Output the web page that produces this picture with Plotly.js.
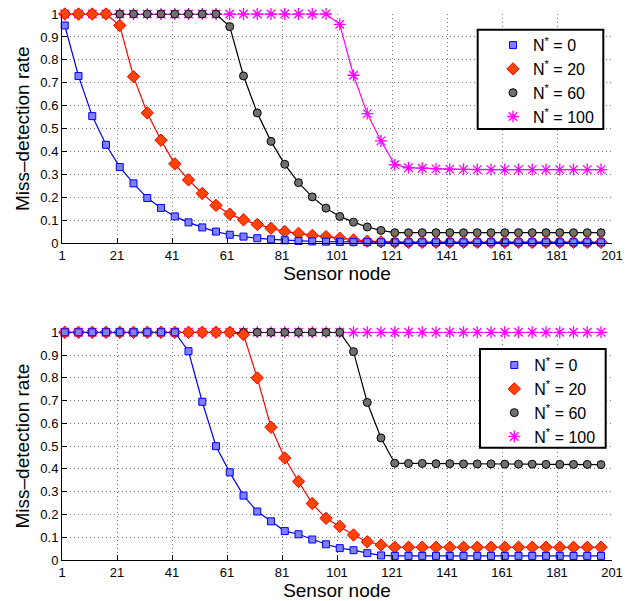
<!DOCTYPE html>
<html>
<head>
<meta charset="utf-8">
<script src="https://cdn.plot.ly/plotly-3.0.1.min.js"></script>
<style>html,body{margin:0;padding:0;background:#fff}#chart{width:629px;height:601px}</style>
</head>
<body>
<div id="chart"></div>
<script>
// Sensor node positions of the markers
const nodes = [2,7,12,17,22,27,32,37,42,47,52,57,62,67,72,77,82,87,92,97,
               102,107,112,117,122,127,132,137,142,147,152,157,162,167,172,177,182,187,192,197];
const xTicks = [1,21,41,61,81,101,121,141,161,181,201];
const seriesNames = ['N<sup>*</sup> = 0','N<sup>*</sup> = 20','N<sup>*</sup> = 60','N<sup>*</sup> = 100'];

// Top panel
const top0 = [0.95,0.73,0.555,0.43,0.333,0.262,0.198,0.155,0.118,0.092,0.07,0.052,0.038,0.03,0.023,0.018,0.014,0.011,0.009,0.008,
              0.007,0.006,0.006,0.005,0.005,0.005,0.005,0.005,0.005,0.005,0.005,0.005,0.005,0.005,0.005,0.005,0.005,0.005,0.005,0.005];
const top20 = [1,1,1,1,0.95,0.727,0.569,0.45,0.347,0.277,0.218,0.166,0.128,0.103,0.083,0.066,0.052,0.044,0.035,0.03,
               0.023,0.015,0.01,0.007,0.005,0.005,0.005,0.005,0.005,0.005,0.005,0.005,0.005,0.005,0.005,0.005,0.005,0.005,0.005,0.005];
const top60 = [1,1,1,1,1,1,1,1,1,1,1,1,0.945,0.73,0.569,0.445,0.345,0.265,0.203,0.154,
               0.118,0.093,0.072,0.057,0.047,0.047,0.047,0.047,0.047,0.047,0.047,0.047,0.047,0.047,0.047,0.047,0.047,0.047,0.047,0.047];
const top100 = [1,1,1,1,1,1,1,1,1,1,1,1,1,1,1,1,1,1,1,1,
                0.955,0.733,0.566,0.447,0.343,0.33,0.328,0.325,0.324,0.323,0.322,0.322,0.322,0.322,0.322,0.322,0.322,0.322,0.322,0.322];

// Bottom panel
const bot0 = [1,1,1,1,1,1,1,1,1,0.917,0.695,0.5,0.385,0.283,0.213,0.17,0.127,0.113,0.09,0.069,
              0.052,0.043,0.03,0.02,0.018,0.018,0.018,0.018,0.018,0.018,0.018,0.018,0.018,0.018,0.018,0.018,0.018,0.018,0.018,0.018];
const bot20 = [1,1,1,1,1,1,1,1,1,1,1,1,1,0.99,0.8,0.583,0.448,0.345,0.248,0.183,
               0.148,0.11,0.08,0.066,0.056,0.056,0.056,0.056,0.056,0.056,0.056,0.056,0.056,0.056,0.056,0.056,0.056,0.056,0.056,0.056];
const bot60 = [1,1,1,1,1,1,1,1,1,1,1,1,1,1,1,1,1,1,1,1,
               1,0.915,0.692,0.536,0.425,0.424,0.424,0.423,0.423,0.422,0.422,0.422,0.421,0.421,0.421,0.42,0.42,0.42,0.42,0.419];
const bot100 = [1,1,1,1,1,1,1,1,1,1,1,1,1,1,1,1,1,1,1,1,
                1,1,1,1,1,1,1,1,1,1,1,1,1,1,1,1,1,1,1,1];

const styles = [
  {line:{color:'#0000ff',width:1.2}, marker:{symbol:'square',size:7,color:'#8080ff',line:{color:'#0000ff',width:1}}},
  {line:{color:'#ff0000',width:1.2}, marker:{symbol:'diamond',size:9.5,color:'#ff4400',line:{color:'#ff0000',width:1}}},
  {line:{color:'#000000',width:1.2}, marker:{symbol:'circle',size:8,color:'#707070',line:{color:'#000000',width:1}}},
  {line:{color:'#ff00ff',width:1.2}, marker:{symbol:'asterisk-open',size:10,color:'#ff00ff',line:{color:'#ff00ff',width:1.3}}}
];

const topSeries = [top0, top20, top60, top100];
const botSeries = [bot0, bot20, bot60, bot100];
const traces = [];
// draw in reverse order so N*=0 is on top
for (let i = 3; i >= 0; i--) {
  traces.push({x:nodes, y:topSeries[i], xaxis:'x', yaxis:'y', mode:'lines+markers', showlegend:false,
               cliponaxis:false, line:styles[i].line, marker:styles[i].marker});
}
for (let i = 3; i >= 0; i--) {
  traces.push({x:nodes, y:botSeries[i], xaxis:'x2', yaxis:'y2', mode:'lines+markers', showlegend:false,
               cliponaxis:false, line:styles[i].line, marker:styles[i].marker});
}
// legend entries (markers only)
for (let i = 0; i < 4; i++) {
  traces.push({x:[null], y:[null], xaxis:'x', yaxis:'y', mode:'markers', name:seriesNames[i], legend:'legend',
               marker:styles[i].marker});
  traces.push({x:[null], y:[null], xaxis:'x2', yaxis:'y2', mode:'markers', name:seriesNames[i], legend:'legend2',
               marker:styles[i].marker});
}

const font = {family:'"Liberation Sans", Arial, sans-serif', color:'#000'};
function xa(anchor){
  return {anchor:anchor, range:[1,201], tickvals:xTicks, ticktext:xTicks.map(String),
    ticks:'inside', ticklen:5, tickcolor:'#000', showline:true, linecolor:'#000', linewidth:1,
    showgrid:true, gridcolor:'#777', griddash:'1px,3px', gridwidth:1, zeroline:false,
    tickfont:{...font, size:13}, title:{text:'Sensor node', font:{...font, size:19}, standoff:3}};
}
function ya(anchor, domain){
  return {anchor:anchor, domain:domain, range:[0,1], dtick:0.1, tick0:0,
    ticks:'inside', ticklen:5, tickcolor:'#000', showline:true, linecolor:'#000', linewidth:1,
    showgrid:true, gridcolor:'#777', griddash:'1px,3px', gridwidth:1, zeroline:false,
    tickfont:{...font, size:13}, title:{text:'Miss–detection rate', font:{...font, size:19}, standoff:5}};
}
const legendStyle = {bgcolor:'rgba(0,0,0,0)', borderwidth:0, font:{...font, size:16},
  xanchor:'left', yanchor:'top', itemwidth:30, tracegroupgap:0};

const boxStyle = {type:'rect', xref:'paper', yref:'paper', layer:'above',
  fillcolor:'#fff', line:{color:'#000', width:2}};

const layout = {
  width:629, height:601, paper_bgcolor:'#fff', plot_bgcolor:'#fff',
  margin:{l:62, r:17, t:14, b:41},
  font:font,
  xaxis: xa('y'),
  yaxis: ya('x', [0.5797, 1]),
  xaxis2: xa('y2'),
  yaxis2: ya('x2', [0, 0.417]),
  legend: {...legendStyle, x:0.7836, y:0.974},
  legend2: {...legendStyle, x:0.786, y:0.388},
  shapes: [
    {...boxStyle, x0:0.7558, x1:0.9842, y0:0.7894, y1:0.9712},
    {...boxStyle, x0:0.76, x1:0.9885, y0:0.2057, y1:0.3864}
  ],
  showlegend:true
};
Plotly.newPlot('chart', traces, layout, {displayModeBar:false, staticPlot:true});
</script>
</body>
</html>
